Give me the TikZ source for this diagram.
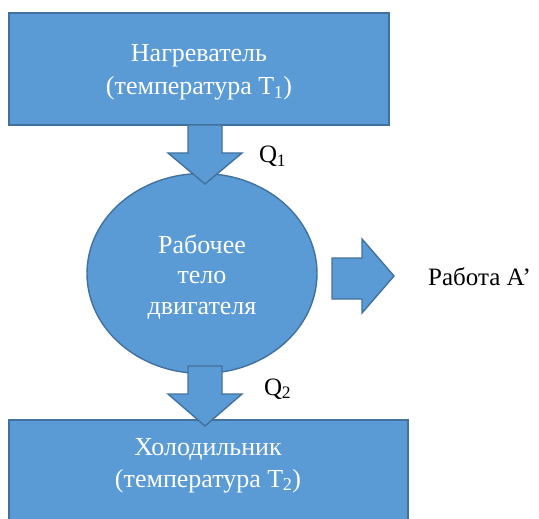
\documentclass[tikz,border=0pt]{standalone}
\usepackage{fontspec}
\setmainfont{Liberation Serif}
\definecolor{boxfill}{HTML}{5B9BD5}
\definecolor{boxline}{HTML}{41719C}
\begin{document}
\begin{tikzpicture}[x=1pt,y=-1pt,
  blue/.style={fill=boxfill,draw=boxline,line width=1.4pt},
  wtext/.style={text=white,font=\fontsize{26}{33}\selectfont,align=center,inner sep=0pt},
  btext/.style={text=black,font=\fontsize{25}{28}\selectfont,inner sep=0pt,anchor=base west}]
\useasboundingbox (0,0) rectangle (539,519);
% rectangles
\path[blue] (9,13) rectangle (389,125);
\path[blue] (9,420) rectangle (408,530);
% ellipse
\path[blue] (202,273.5) ellipse [x radius=115, y radius=100];
% arrows
\path[blue] (188,125) -- (222,125) -- (222,153) -- (242,153) -- (205,184) -- (168,153) -- (188,153) -- cycle;
\path[blue] (188,366) -- (222,366) -- (222,394) -- (242,394) -- (205,426) -- (168,394) -- (188,394) -- cycle;
\path[blue] (332,258) -- (362,258) -- (362,239) -- (394,276) -- (362,313) -- (362,299) -- (332,299) -- cycle;
% texts
\node[wtext,anchor=base] (heater) at (199,62) {Нагреватель};
\node[wtext,anchor=base] (heatert) at (199,95) {(температура T\textsubscript{\kern-0.5pt 1})};
\node[wtext,anchor=base] (body1) at (202,253) {Рабочее};
\node[wtext,anchor=base] (body2) at (202,283.5) {тело};
\node[wtext,anchor=base] (body3) at (202,314) {двигателя};
\node[wtext,anchor=base] (cooler) at (208,455) {Холодильник};
\node[wtext,anchor=base] (coolert) at (208,487) {(температура T\textsubscript{\kern-0.5pt 2})};
\node[btext] (q1) at (259,163) {Q\textsubscript{\kern-0.5pt 1}};
\node[btext] (q2) at (264,395) {Q\textsubscript{\kern-0.5pt 2}};
\node[btext] (work) at (428,285) {Работа А’};
\end{tikzpicture}
\end{document}
